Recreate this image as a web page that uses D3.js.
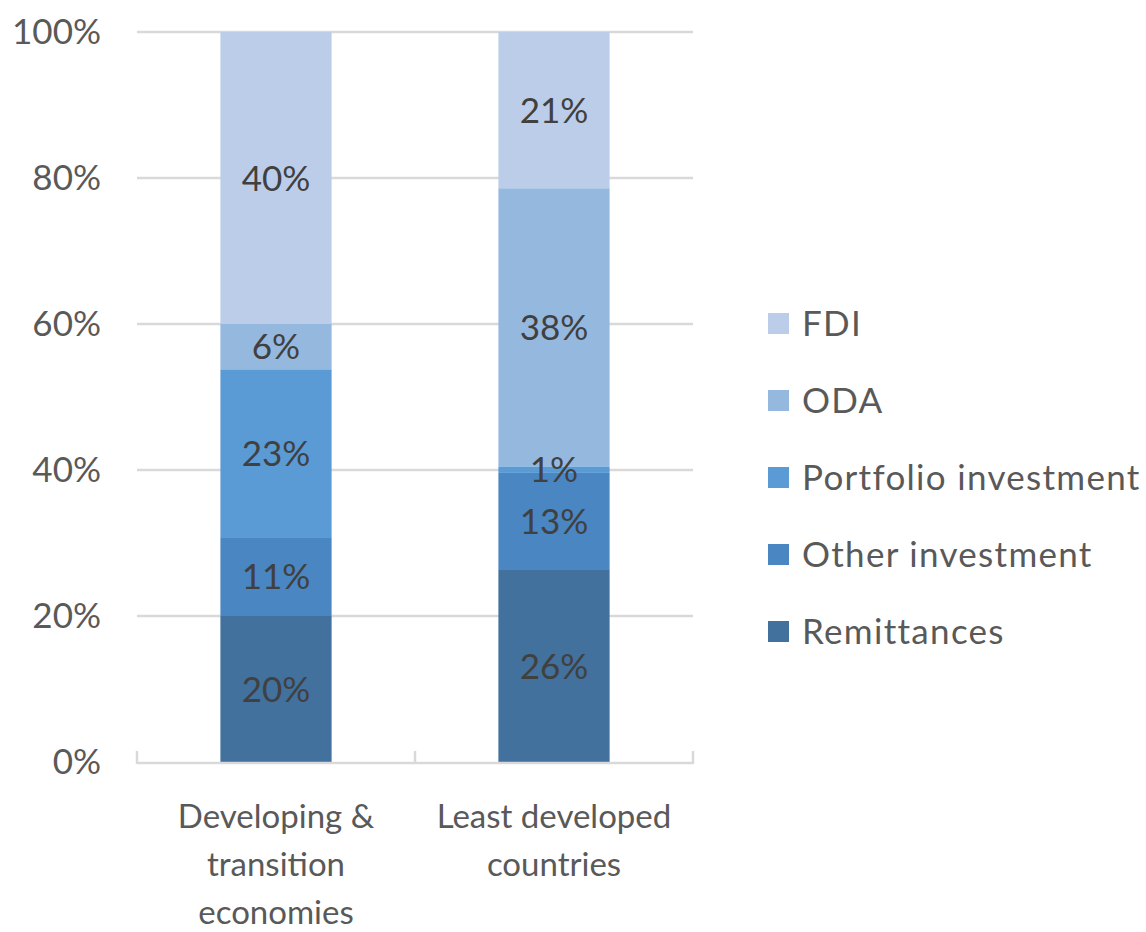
<!DOCTYPE html>
<html>
<head>
<meta charset="utf-8">
<script src="https://cdn.jsdelivr.net/npm/d3@7"></script>
<style>
  html, body { margin: 0; padding: 0; background: #fff; }
  svg { display: block; }
  text { font-family: Lato, "Open Sans", sans-serif; }
</style>
</head>
<body>
<svg id="chart" width="1146" height="932"></svg>
<script>
// ---- data ----
const categories = ["Developing & transition economies", "Least developed countries"];
const categoryLines = [["Developing &", "transition", "economies"], ["Least developed", "countries"]];
const seriesNames = ["Remittances", "Other investment", "Portfolio investment", "ODA", "FDI"];
const remittances = [0.200, 0.263];
const otherInvestment = [0.108, 0.133];
const portfolioInvestment = [0.230, 0.009];
const oda = [0.062, 0.381];
const fdi = [0.400, 0.214];
const yTicks = [0, 0.2, 0.4, 0.6, 0.8, 1.0];
const colors = ["#41719c", "#4a86c1", "#5b9bd5", "#95b8df", "#bccdea"];

(function () {
const seriesValues = [remittances, otherInvestment, portfolioInvestment, oda, fdi];
const table = categories.map((c, i) => {
  const row = { category: c };
  seriesNames.forEach((s, k) => row[s] = seriesValues[k][i]);
  return row;
});

const svg = d3.select("#chart");
const mLeft = 137, mRight = 693, mTop = 32, mBottom = 762;

const x = d3.scaleBand().domain(categories).range([mLeft, mRight]).paddingInner(0.6).paddingOuter(0.3);
const xAxisScale = d3.scaleBand().domain(categories).range([mLeft, mRight]).padding(0);
const y = d3.scaleLinear().domain([0, 1]).range([mBottom, mTop]);
const color = d3.scaleOrdinal().domain(seriesNames).range(colors);

// gridlines
svg.append("g").selectAll("line").data(yTicks.filter(d => d > 0)).join("line")
  .attr("x1", mLeft).attr("x2", mRight)
  .attr("y1", d => y(d)).attr("y2", d => y(d))
  .attr("stroke", "#d9d9d9").attr("stroke-width", 2.5);

// y axis labels
const yAxis = d3.axisLeft(y).tickValues(yTicks).tickFormat(d3.format(".0%")).tickSize(0).tickPadding(0);
const gy = svg.append("g").attr("transform", `translate(101,0)`).call(yAxis);
gy.select(".domain").remove();
gy.selectAll("text").attr("font-size", 35).attr("fill", "#595959")
  .attr("font-family", "Lato, 'Open Sans', sans-serif");

// stacked bars
const stack = d3.stack().keys(seriesNames);
const stacked = stack(table);
const layers = svg.append("g").selectAll("g").data(stacked).join("g")
  .attr("fill", d => color(d.key));
layers.selectAll("rect").data(d => d).join("rect")
  .attr("x", d => x(d.data.category))
  .attr("width", x.bandwidth())
  .attr("y", d => y(d[1]))
  .attr("height", d => y(d[0]) - y(d[1]));

// data labels
const fmt = d3.format(".0%");
const labels = svg.append("g");
stacked.forEach(layer => {
  layer.forEach(d => {
    labels.append("text")
      .attr("x", x(d.data.category) + x.bandwidth() / 2)
      .attr("y", (y(d[0]) + y(d[1])) / 2)
      .attr("dy", "0.36em")
      .attr("text-anchor", "middle")
      .attr("font-size", 35)
      .attr("fill", "#404040")
      .text(fmt(d.data[layer.key]));
  });
});

// x axis baseline with ticks
svg.append("line").attr("x1", mLeft).attr("x2", mRight).attr("y1", mBottom + 1).attr("y2", mBottom + 1)
  .attr("stroke", "#d9d9d9").attr("stroke-width", 2.5);
const xTickPos = [mLeft].concat(categories.map(c => xAxisScale(c) + xAxisScale.bandwidth()));
svg.append("g").selectAll("line").data(xTickPos).join("line")
  .attr("x1", d => d).attr("x2", d => d)
  .attr("y1", mBottom - 11).attr("y2", mBottom + 2)
  .attr("stroke", "#d9d9d9").attr("stroke-width", 2.5);

// category labels
categories.forEach((c, i) => {
  const cx = xAxisScale(c) + xAxisScale.bandwidth() / 2;
  const t = svg.append("text")
    .attr("text-anchor", "middle")
    .attr("font-size", 33)
    .attr("fill", "#595959");
  categoryLines[i].forEach((ln, j) => {
    t.append("tspan").attr("x", cx).attr("y", 828 + j * 48).text(ln);
  });
});

// legend (top to bottom: FDI ... Remittances)
const legendOrder = seriesNames.slice().reverse();
const lg = svg.append("g");
legendOrder.forEach((s, i) => {
  const cy = 323 + i * 77;
  lg.append("rect").attr("x", 768).attr("y", cy - 10).attr("width", 21).attr("height", 21)
    .attr("fill", color(s));
  lg.append("text").attr("x", 802).attr("y", cy).attr("dy", "0.36em")
    .attr("font-size", 35).attr("letter-spacing", 1.3).attr("fill", "#595959").text(s);
});
})();
</script>
</body>
</html>
